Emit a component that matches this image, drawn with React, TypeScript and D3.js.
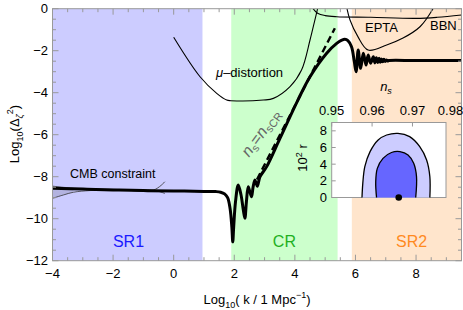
import React, { useEffect } from "react";
import * as d3 from "d3";

// main power spectrum curve (log10 k, log10 Delta^2)
const mainX = [-4, -3, -2, -1, 0, 1, 1.4, 1.55, 1.68, 1.78, 1.86, 1.92, 1.95, 1.98, 2.04, 2.13, 2.22, 2.3, 2.35, 2.4, 2.46, 2.52, 2.57, 2.62, 2.68, 2.72, 2.76, 2.85, 3.07, 3.5, 4.1, 4.5, 5.05, 5.38, 5.55, 5.65, 5.75, 5.87, 5.96, 6.02, 6.09, 6.17, 6.26, 6.35, 6.42, 6.5, 6.59, 6.64, 6.69, 6.74, 6.78, 6.82, 6.86, 6.9, 6.94, 6.98, 7.02, 7.06, 7.1, 8, 9.5];
const mainY = [-8.55, -8.59, -8.63, -8.66, -8.68, -8.7, -8.71, -8.74, -8.82, -9.0, -9.5, -10.4, -11.1, -10.4, -9.2, -8.4, -8.85, -9.6, -9.98, -9.2, -8.48, -8.75, -8.95, -8.5, -8.16, -8.3, -8.45, -8.0, -7.52, -6.2, -4.35, -3.24, -2.12, -1.65, -1.5, -1.46, -1.52, -1.81, -2.5, -3.0, -1.97, -2.84, -2.12, -2.68, -2.2, -2.6, -2.29, -2.58, -2.33, -2.56, -2.36, -2.55, -2.39, -2.53, -2.41, -2.51, -2.44, -2.49, -2.47, -2.47, -2.47];

// n_s = n_sCR dashed line
const dashX = [2.75, 5.32];
const dashY = [-8.13, -0.93];

// constraints
const muX = [0, 0.87, 1.42, 1.75, 1.89, 2.96, 3.29, 3.84, 4.22, 4.5, 4.66, 4.75];
const muY = [-1.36, -3.24, -4.03, -4.35, -4.38, -4.35, -4.27, -3.71, -2.92, -1.49, -0.54, 0];
const eptaX = [5.72, 5.82, 6.08, 6.42, 7.03, 7.57, 8.13, 8.56];
const eptaY = [0, -0.54, -1.33, -1.97, -1.73, -1.4, -0.86, 0];
const bbnX = [4.6, 4.75, 5.0, 5.38, 6.5, 8.0, 8.7, 9.5];
const bbnY = [0, -0.22, -0.33, -0.38, -0.41, -0.46, -0.41, -0.3];
const cmbUpX = [-4, -3.3, -2, -0.67, -0.29];
const cmbUpY = [-8.45, -8.55, -8.6, -8.64, -8.24];
const cmbLoX = [-4, -3.64, -3.31, -2.76, -2, -0.67, -0.29];
const cmbLoY = [-9.03, -8.87, -8.74, -8.66, -8.64, -8.64, -8.8];

// regions
const regionNames = ["SR1", "CR", "SR2"];
const regionFrom = [-4, 1.9, 5.88];
const regionTo = [0.95, 5.41, 9.5];

// axis ticks
const xTicks = [-4, -2, 0, 2, 4, 6, 8];
const yTicks = [0, -2, -4, -6, -8, -10, -12];

// inset (n_s, 10^2 r)
const insetXTicks = [0.95, 0.96, 0.97, 0.98];
const insetYTicks = [0, 2, 4, 6, 8];
const outerNs = [0.9575, 0.9577, 0.9582, 0.9595, 0.9615, 0.9636, 0.9664, 0.9693, 0.9718, 0.9735, 0.9743, 0.9743];
const outerR = [0, 1.7, 3.7, 5.5, 6.9, 7.5, 7.7, 7.3, 6.1, 4.5, 2.5, 0];
const innerNs = [0.9611, 0.9609, 0.9613, 0.9627, 0.9648, 0.9669, 0.9689, 0.9703, 0.971, 0.9708];
const innerR = [0, 1.9, 3.5, 4.7, 5.4, 5.5, 5.1, 4.1, 2.5, 0];
const bestNs = 0.9666;
const bestR = 0;

const W = 463;
const H = 310;
const FONT = "'Liberation Sans', Arial, sans-serif";
const FRAME = "#999";

const x = d3.scaleLinear().domain([-4, 9.5]).range([52.5, 461.5]);
const y = d3.scaleLinear().domain([-12, 0]).range([260.7, 8.7]);
const ix = d3.scaleLinear().domain([0.95, 0.9783]).range([331.7, 446]);
const iy = d3.scaleLinear().domain([0, 9]).range([197.5, 122.5]);

const zip = (a: number[], b: number[]) => a.map((v, i) => [v, b[i]] as [number, number]);
const fmt = (v: number) => (v < 0 ? "\u2212" + Math.abs(v) : String(v));

const lineXY = (curve: d3.CurveFactory) =>
  d3.line<[number, number]>().x((d) => x(d[0])).y((d) => y(d[1])).curve(curve);
const lineIn = d3
  .line<[number, number]>()
  .x((d) => ix(d[0]))
  .y((d) => iy(d[1]))
  .curve(d3.curveCatmullRom.alpha(0.5));

export default function App() {
  useEffect(() => {
    document.body.style.margin = "0";
  }, []);

  const smooth = lineXY(d3.curveCatmullRom.alpha(0.5));
  const straight = lineXY(d3.curveLinear);
  const regionFill = ["#ccccff", "#ccffcc", "#ffe5cc"];
  const regionText = ["#1a1aff", "#1fb01f", "#ff8a1f"];

  const cmbArea = d3
    .area<number>()
    .x((d) => x(d))
    .y0((d, i) => y(cmbLoY[i]))
    .y1((d) => y(d3.interpolateNumber(-8.45, -8.6)(Math.min(1, (d + 4) / 2))))
    .curve(d3.curveCatmullRom);

  const xMinor = d3.range(-4, 9.51, 0.5);
  const yMinor = d3.range(-12, 0.01, 0.5);

  return (
    <svg width={W} height={H} style={{ position: "absolute", left: 0, top: 0 }} fontFamily={FONT}>
      <defs>
        <clipPath id="plot">
          <rect x={x(-4)} y={y(0)} width={x(9.5) - x(-4)} height={y(-12) - y(0)} />
        </clipPath>
      </defs>

      {regionNames.map((n, i) => (
        <rect key={n} x={x(regionFrom[i])} y={y(0)} width={x(regionTo[i]) - x(regionFrom[i])}
          height={y(-12) - y(0)} fill={regionFill[i]} />
      ))}
      {regionNames.map((n, i) => (
        <text key={n} x={(x(regionFrom[i]) + x(regionTo[i])) / 2 + (i === 0 ? 1 : i === 2 ? 5 : 0)} y={247}
          fontSize={16} fill={regionText[i]} textAnchor="middle">{n}</text>
      ))}

      <g clipPath="url(#plot)" fill="none">
        <path d={cmbArea(cmbLoX.slice(0, 3)) || ""} fill="rgba(0,0,0,0.12)" stroke="none" />
        <path d={smooth(zip(cmbUpX, cmbUpY)) || ""} stroke="#333" strokeWidth={0.8} />
        <path d={smooth(zip(cmbLoX, cmbLoY)) || ""} stroke="#333" strokeWidth={0.8} />
        <path d={smooth(zip(muX, muY)) || ""} stroke="#000" strokeWidth={1.1} />
        <path d={smooth(zip(eptaX, eptaY)) || ""} stroke="#000" strokeWidth={1.1} />
        <path d={smooth(zip(bbnX, bbnY)) || ""} stroke="#000" strokeWidth={1.1} />
        <path d={straight(zip(dashX, dashY)) || ""} stroke="#000" strokeWidth={2.4} strokeDasharray="7,4" />
        <path d={smooth(zip(mainX, mainY)) || ""} stroke="#000" strokeWidth={3} strokeLinejoin="round" />
      </g>

      {/* frame and ticks */}
      <rect x={x(-4)} y={y(0)} width={x(9.5) - x(-4)} height={y(-12) - y(0)} fill="none" stroke={FRAME} />
      {xMinor.map((v) => {
        const len = Math.abs(v % 2) < 1e-6 ? 6 : 3.5;
        return (
          <g key={"xt" + v} stroke={FRAME}>
            <line x1={x(v)} x2={x(v)} y1={y(-12)} y2={y(-12) - len} />
            <line x1={x(v)} x2={x(v)} y1={y(0)} y2={y(0) + len} />
          </g>
        );
      })}
      {yMinor.map((v) => {
        const len = Math.abs(v % 2) < 1e-6 ? 6 : 3.5;
        return (
          <g key={"yt" + v} stroke={FRAME}>
            <line x1={x(-4)} x2={x(-4) + len} y1={y(v)} y2={y(v)} />
            <line x1={x(9.5)} x2={x(9.5) - len} y1={y(v)} y2={y(v)} />
          </g>
        );
      })}
      {xTicks.map((v) => (
        <text key={"xl" + v} x={x(v)} y={277.5} fontSize={13} textAnchor="middle">{fmt(v)}</text>
      ))}
      {yTicks.map((v) => (
        <text key={"yl" + v} x={48} y={y(v) + 4.5} fontSize={13} textAnchor="end">{fmt(v)}</text>
      ))}

      {/* axis titles */}
      <text x={257} y={304} fontSize={13} textAnchor="middle">
        Log<tspan fontSize={9} dy={4}>10</tspan><tspan dy={-4}>( k / 1 Mpc</tspan>
        <tspan fontSize={9} dy={-6}>{"\u22121"}</tspan><tspan dy={6}>)</tspan>
      </text>
      <text transform="translate(19,134) rotate(-90)" fontSize={13} textAnchor="middle">
        Log<tspan fontSize={9} dy={4}>10</tspan><tspan dy={-4}>({"\u0394"}</tspan>
        <tspan fontSize={9} fontStyle="italic" dy={4}>{"\u03b6"}</tspan>
        <tspan fontSize={9} dy={-10}>2</tspan><tspan dy={6}>)</tspan>
      </text>

      {/* curve labels */}
      <text x={216} y={76.5} fontSize={13}>
        <tspan fontStyle="italic">{"\u03bc"}</tspan>{"\u2013distortion"}
      </text>
      <text x={365} y={31.5} fontSize={13}>EPTA</text>
      <text x={430} y={30} fontSize={13}>BBN</text>
      <text x={70} y={178} fontSize={12.5}>CMB constraint</text>
      <text transform="translate(265,136) rotate(-54)" fontSize={16} fill="#666" textAnchor="middle">
        <tspan fontStyle="italic">n</tspan><tspan fontSize={11} dy={3}>s</tspan>
        <tspan dy={-3}>=</tspan><tspan fontStyle="italic">n</tspan>
        <tspan fontSize={11} dy={3}>sCR</tspan>
      </text>

      {/* inset */}
      <rect x={ix(0.95)} y={iy(9)} width={ix(0.9783) - ix(0.95)} height={iy(0) - iy(9)} fill="#fff" stroke={FRAME} />
      <path d={(lineIn(zip(outerNs, outerR)) || "")} fill="#ccccff" stroke="#000" strokeWidth={1.3} />
      <path d={(lineIn(zip(innerNs, innerR)) || "")} fill="#6666ff" stroke="#000" strokeWidth={1.3} />
      <circle cx={ix(bestNs)} cy={iy(bestR)} r={3.3} fill="#000" />
      {insetXTicks.filter((v) => v < 0.978).map((v) => (
        <line key={"it" + v} x1={ix(v)} x2={ix(v)} y1={iy(9)} y2={iy(9) + 4} stroke={FRAME} />
      ))}
      {insetYTicks.map((v) => (
        <line key={"iyt" + v} x1={ix(0.95)} x2={ix(0.95) + 4} y1={iy(v)} y2={iy(v)} stroke={FRAME} />
      ))}
      {insetXTicks.map((v) => (
        <text key={"ixl" + v} x={Math.min(ix(v), W - 12.5)} y={114.5} fontSize={13} textAnchor="middle">{v.toFixed(2)}</text>
      ))}
      {insetYTicks.map((v) => (
        <text key={"iyl" + v} x={327} y={iy(v) + 4.5} fontSize={13} textAnchor="end">{v}</text>
      ))}
      <text x={386} y={91} fontSize={13} textAnchor="middle">
        <tspan fontStyle="italic">n</tspan><tspan fontStyle="italic" fontSize={9} dy={3}>s</tspan>
      </text>
      <text transform="translate(307,158) rotate(-90)" fontSize={13} textAnchor="middle">
        10<tspan fontSize={9} dy={-5}>2</tspan><tspan dy={5}> r</tspan>
      </text>
    </svg>
  );
}
